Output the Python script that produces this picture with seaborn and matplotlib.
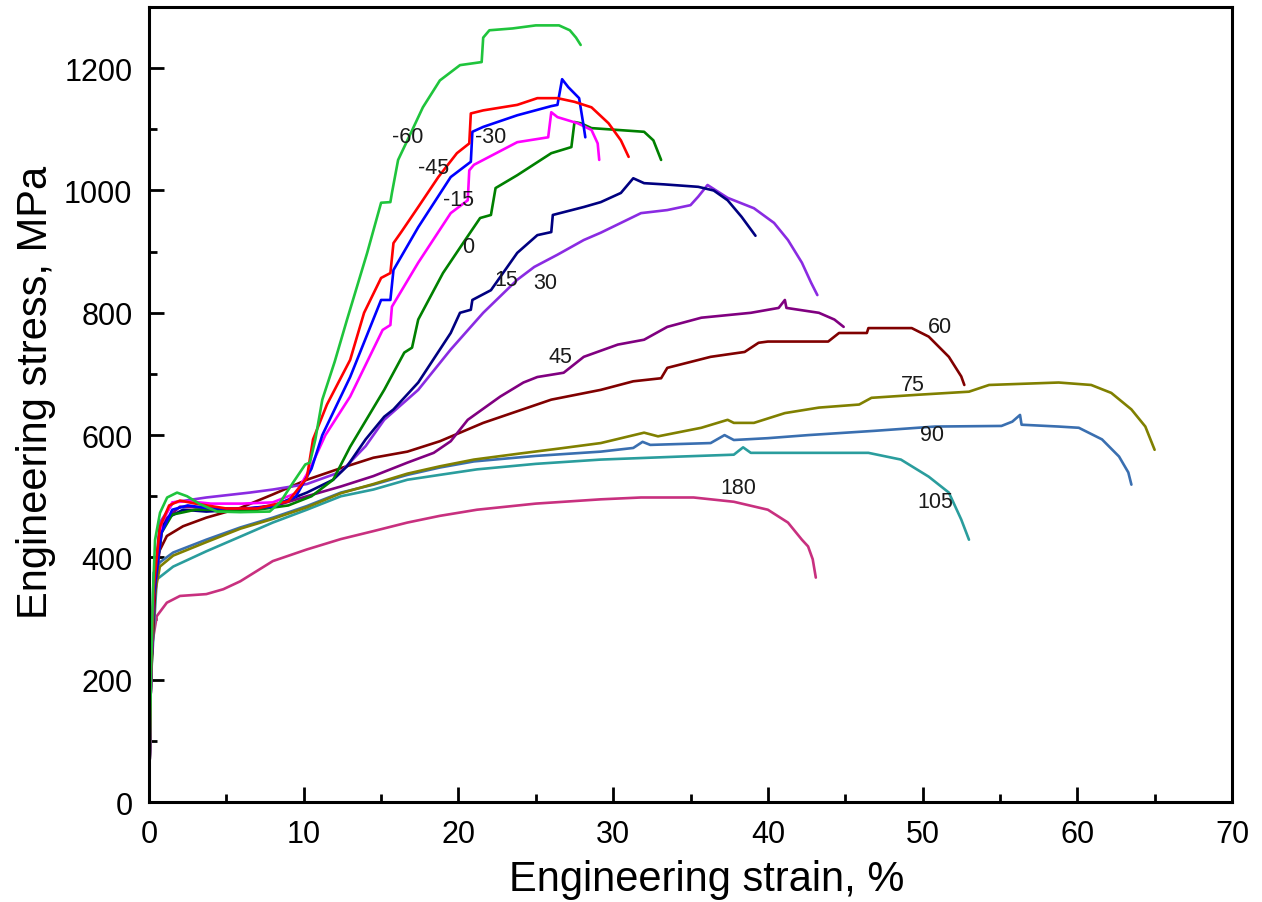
import numpy as np
import pandas as pd
import matplotlib
matplotlib.use("Agg")
import matplotlib.pyplot as plt
from matplotlib.ticker import MultipleLocator
import seaborn as sns

# ---------------- data (engineering strain %, engineering stress MPa) ----------------
labels = ["-60", "-45", "-30", "-15", "0", "15", "30", "45", "60", "75", "90", "105", "180"]

x_m60 = [0, 0.12, 0.25, 0.39, 0.71, 1.17, 1.81, 2.46, 3.3, 4.4, 5.9, 7.8, 8.5, 9.3, 10.1, 10.4, 10.75, 11.2, 12.0, 12.8,
         14.1, 15.0, 15.6, 15.7, 16.1, 16.7, 17.7, 18.8, 20.1, 21.5, 21.6, 22.0, 23.5, 25.0, 26.5, 27.2, 27.6, 27.9]
y_m60 = [0, 200, 340, 429, 473, 498, 506, 500, 487, 475, 474, 475, 491, 522, 552, 555, 593, 658, 720, 789,
         898, 980, 981, 996, 1050, 1082, 1136, 1180, 1205, 1210, 1250, 1262, 1265, 1270, 1270, 1262, 1250, 1238]

x_m45 = [0, 0.12, 0.3, 0.7, 1.3, 2.0, 3.0, 5.0, 7.0, 9.0, 10.2, 10.6, 11.5, 13.0, 13.9, 15.0, 15.6, 15.8, 16.3, 17.4,
         18.7, 19.9, 20.7, 20.8, 21.6, 23.8, 25.1, 26.4, 27.5, 28.6, 29.7, 30.5, 31.0]
y_m45 = [0, 200, 350, 450, 485, 493, 488, 480, 480, 492, 530, 593, 650, 723, 800, 857, 865, 914, 932, 973,
         1022, 1061, 1077, 1126, 1131, 1140, 1151, 1151, 1145, 1136, 1110, 1082, 1055]

x_m30 = [0, 0.12, 0.3, 0.8, 1.5, 2.5, 4.0, 6.0, 8.0, 9.5, 10.5, 11.2, 13.0, 15.0, 15.6, 15.8, 17.4, 19.5, 20.8, 20.9,
         21.6, 23.8, 26.0, 26.4, 26.7, 27.1, 27.8, 28.1, 28.2]
y_m30 = [0, 200, 340, 440, 478, 485, 480, 480, 483, 500, 545, 600, 695, 821, 821, 870, 940, 1022, 1047, 1096,
         1104, 1123, 1138, 1140, 1182, 1169, 1151, 1104, 1087]

x_m15 = [0, 0.12, 0.3, 0.8, 1.5, 2.5, 4.0, 6.0, 8.0, 9.5, 10.4, 11.4, 13.0, 15.1, 15.6, 15.7, 17.4, 19.5, 20.6, 20.7,
         21.0, 23.8, 25.8, 26.0, 26.4, 27.7, 28.6, 29.0, 29.1]
y_m15 = [0, 200, 350, 455, 490, 492, 488, 488, 490, 505, 545, 600, 663, 772, 780, 810, 882, 963, 984, 1033,
         1042, 1079, 1087, 1128, 1120, 1110, 1099, 1077, 1050]

x_p0 = [0, 0.12, 0.3, 0.8, 1.5, 3, 5, 7, 9, 10.5, 11.9, 13.0, 15.2, 16.5, 17.0, 17.4, 19.0, 20.3, 21.4, 22.1,
        22.4, 23.8, 26.0, 27.3, 27.5, 27.9, 28.6, 30.3, 32.0, 32.6, 33.1]
y_p0 = [0, 200, 340, 440, 470, 478, 478, 478, 485, 500, 527, 581, 674, 735, 743, 789, 865, 914, 955, 960,
        1004, 1025, 1061, 1071, 1112, 1110, 1102, 1099, 1096, 1082, 1050]

x_p15 = [0, 0.12, 0.3, 0.7, 1.36, 2.2, 3.7, 5.9, 8.0, 10.2, 11.9, 12.8, 14.0, 15.2, 15.8, 17.4, 19.5, 20.1, 20.8, 20.9,
         22.1, 23.8, 25.1, 26.0, 26.1, 28.1, 29.2, 30.5, 31.3, 32.0, 33.3, 35.5, 36.5, 37.4, 38.3, 39.2]
y_p15 = [0, 200, 340, 446, 467, 478, 475, 478, 484, 506, 527, 549, 593, 630, 642, 686, 767, 800, 805, 821,
         837, 898, 927, 932, 960, 973, 981, 996, 1020, 1012, 1010, 1006, 1000, 984, 957, 926]

x_p30 = [0, 0.12, 0.3, 0.7, 1.56, 3.7, 6.5, 8.0, 10.2, 12.4, 14.0, 15.2, 17.4, 19.5, 21.6, 23.8, 24.9, 26.4, 28.1, 29.2,
         31.8, 33.5, 35.0, 35.5, 36.1, 37.4, 39.1, 40.4, 41.3, 42.2, 42.8, 43.2]
y_p30 = [0, 200, 340, 457, 490, 498, 506, 511, 520, 540, 582, 625, 674, 740, 800, 854, 875, 895, 919, 931,
         963, 968, 976, 990, 1009, 988, 971, 947, 919, 882, 849, 829]

x_p45 = [0, 0.12, 0.3, 0.9, 2.0, 3.7, 5.9, 8.5, 10.2, 12.4, 14.5, 16.7, 18.4, 19.5, 20.6, 22.7, 24.2, 25.1, 26.8, 28.1,
         30.3, 32.0, 33.5, 35.7, 38.9, 40.7, 41.1, 41.2, 43.3, 44.3, 44.9]
y_p45 = [0, 200, 330, 459, 483, 481, 478, 487, 500, 516, 533, 555, 571, 590, 625, 663, 686, 695, 702, 728,
         748, 756, 777, 792, 800, 808, 821, 808, 800, 789, 777]

x_p60 = [0, 0.12, 0.5, 1.15, 2.2, 3.7, 5.9, 8.0, 10.2, 12.4, 14.5, 16.7, 18.8, 21.6, 26.0, 29.2, 31.3, 33.1, 33.5, 36.3,
         38.5, 39.4, 40.0, 43.9, 44.6, 46.4, 46.5, 49.3, 50.4, 51.7, 52.5, 52.7]
y_p60 = [0, 200, 402, 435, 451, 465, 481, 503, 527, 546, 563, 573, 590, 620, 658, 674, 688, 693, 710, 728,
         736, 751, 753, 753, 767, 767, 775, 775, 761, 728, 696, 682]

x_p75 = [0, 0.12, 0.3, 0.7, 1.56, 3.7, 5.9, 8.0, 10.2, 12.4, 14.5, 16.7, 18.8, 21.0, 24.0, 26.5, 29.2, 32.0, 32.9, 35.7,
         37.4, 37.8, 39.1, 41.1, 43.3, 45.9, 46.7, 49.7, 53.0, 54.3, 58.8, 60.9, 62.2, 63.5, 64.4, 65.0]
y_p75 = [0, 200, 330, 385, 403, 425, 447, 463, 482, 505, 520, 537, 549, 560, 570, 578, 587, 604, 598, 612,
         625, 620, 620, 636, 645, 650, 661, 666, 671, 682, 686, 682, 669, 642, 614, 576]

x_p90 = [0, 0.12, 0.3, 0.7, 1.56, 3.7, 5.9, 8.0, 10.2, 12.4, 14.5, 16.7, 18.8, 21.0, 25.0, 29.2, 31.3, 31.9, 32.4, 36.3,
         37.2, 37.8, 40.0, 42.6, 46.9, 50.8, 55.1, 55.8, 56.3, 56.4, 58.8, 60.1, 61.6, 62.7, 63.3, 63.5]
y_p90 = [0, 200, 375, 392, 408, 429, 449, 465, 484, 506, 519, 535, 547, 557, 566, 573, 579, 589, 584, 587,
         600, 592, 595, 600, 607, 614, 615, 622, 633, 617, 614, 612, 593, 565, 539, 519]

x_p105 = [0, 0.12, 0.5, 1.56, 3.7, 5.9, 8.0, 10.2, 12.4, 14.5, 16.7, 18.8, 21.2, 25.0, 29.2, 34.4, 37.8, 38.4, 38.9,
          46.5, 48.6, 50.4, 51.7, 52.5, 53.0]
y_p105 = [0, 200, 364, 385, 410, 434, 457, 478, 500, 511, 527, 535, 544, 553, 560, 565, 568, 580, 571,
          571, 560, 532, 506, 462, 429]

x_p180 = [0, 0.15, 0.5, 1.15, 2.0, 3.7, 4.8, 5.9, 8.0, 10.2, 12.4, 14.5, 16.7, 18.8, 21.2, 25.0, 29.2, 31.8, 35.2,
          37.8, 40.0, 41.3, 42.2, 42.6, 42.9, 43.1]
y_p180 = [0, 250, 304, 326, 337, 340, 348, 361, 394, 413, 430, 443, 457, 468, 478, 488, 495, 498, 498,
          491, 478, 457, 429, 418, 397, 367]

colors = ["#1fc43c", "#ff0000", "#0000ff", "#ff00ff", "#008000", "#000080", "#8a2be2",
          "#800080", "#800000", "#808000", "#3a6fb0", "#2a9d9d", "#c8307f"]

# label positions (strain, stress)
label_x = [16.7, 18.4, 22.1, 20.0, 20.6, 23.1, 25.6, 26.6, 51.1, 49.4, 50.6, 50.8, 38.1]
label_y = [1089, 1038, 1089, 986, 909, 854, 850, 728, 777, 682, 601, 491, 514]

xs = [x_m60, x_m45, x_m30, x_m15, x_p0, x_p15, x_p30, x_p45, x_p60, x_p75, x_p90, x_p105, x_p180]
ys = [y_m60, y_m45, y_m30, y_m15, y_p0, y_p15, y_p30, y_p45, y_p60, y_p75, y_p90, y_p105, y_p180]

frames = []
for lab, xv, yv in zip(labels, xs, ys):
    frames.append(pd.DataFrame({"strain": xv, "stress": yv, "curve": lab}))
df = pd.concat(frames, ignore_index=True)

# ---------------- plot ----------------
sns.set_style("ticks")
plt.rcParams["font.family"] = ["Liberation Sans", "DejaVu Sans"]
plt.rcParams["text.color"] = "black"
plt.rcParams["axes.labelcolor"] = "black"
plt.rcParams["xtick.color"] = "black"
plt.rcParams["ytick.color"] = "black"

fig = plt.figure(figsize=(12.62, 9.03), dpi=100)
ax = fig.add_axes([0.1181, 0.1107, 0.8581, 0.8804])

palette = dict(zip(labels, colors))
draw_order = labels[::-1]
sns.lineplot(data=df, x="strain", y="stress", hue="curve", hue_order=draw_order,
             palette=palette, sort=False, estimator=None, legend=False,
             linewidth=1.9, ax=ax)

for lab, lx, ly in zip(labels, label_x, label_y):
    ax.text(lx, ly, lab, fontsize=15.5, ha="center", va="center", color="#1a1a1a")

ax.set_xlim(0, 70)
ax.set_ylim(0, 1300)
ax.xaxis.set_major_locator(MultipleLocator(10))
ax.xaxis.set_minor_locator(MultipleLocator(5))
ax.yaxis.set_minor_locator(MultipleLocator(100))
ax.set_yticks([0, 200, 400, 600, 800, 1000, 1200])

ax.tick_params(axis="both", which="major", direction="in", length=11, width=2,
               labelsize=22, top=False, right=False, colors="black")
ax.tick_params(axis="both", which="minor", direction="in", length=5.5, width=2,
               top=False, right=False, colors="black")
ax.tick_params(axis="x", which="major", pad=12)
ax.tick_params(axis="y", which="major", pad=12)

for sp in ax.spines.values():
    sp.set_visible(True)
    sp.set_linewidth(2.2)
    sp.set_color("black")

ax.set_xlabel("Engineering strain, %", fontsize=30, color="black")
ax.set_ylabel("Engineering stress, MPa", fontsize=30, color="black")
ax.xaxis.set_label_coords(0.515, -0.072)
ax.yaxis.set_label_coords(-0.086, 0.517)

fig.savefig("out.png", dpi=100)
